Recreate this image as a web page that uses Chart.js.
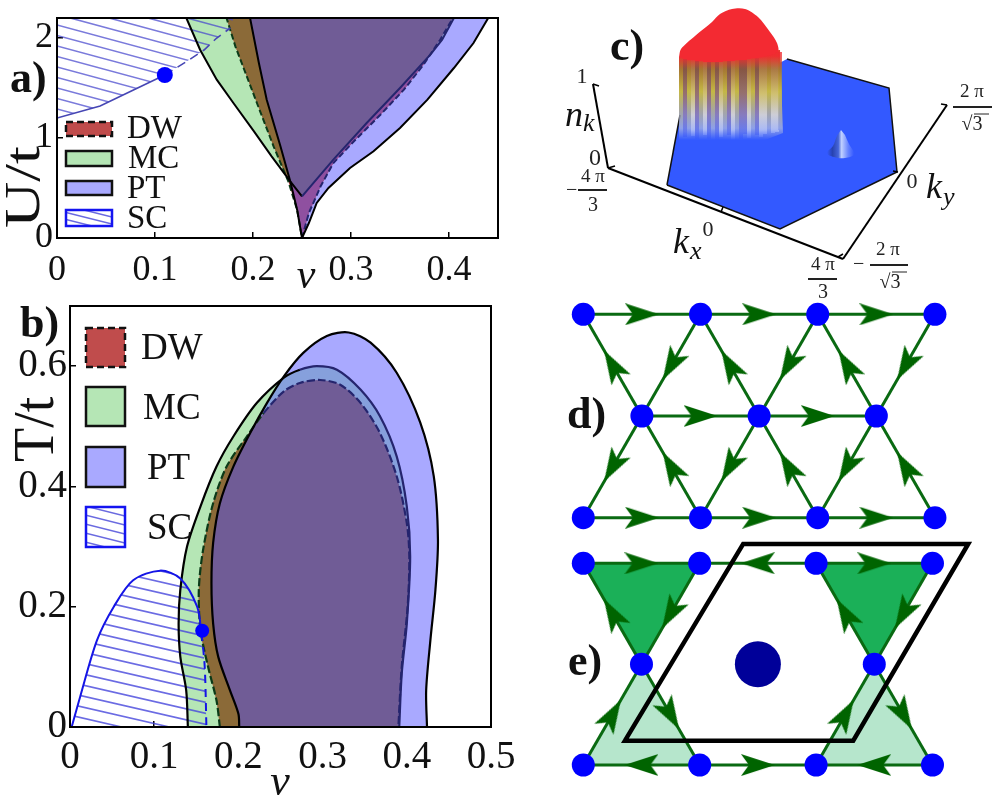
<!DOCTYPE html>
<html>
<head>
<meta charset="utf-8">
<script src="https://cdn.jsdelivr.net/npm/chart.js@4"></script>
<style>
body { margin: 0; background: #fff; }
canvas { position: absolute; }
</style>
</head>
<body>
<canvas id="chartD" width="450" height="240" style="left:550px;top:290px"></canvas>
<canvas id="chartE" width="450" height="270" style="left:550px;top:530px"></canvas>
<canvas id="chartA" width="500" height="290" style="left:0;top:0"></canvas>
<canvas id="chartB" width="520" height="510" style="left:0;top:290px"></canvas>
<canvas id="chartC" width="460" height="300" style="left:540px;top:0"></canvas>
<script>
// panel a: U/t against filling
const aTicksX = [0, 0.1, 0.2, 0.3, 0.4];
const aTicksY = [0, 1, 2];
const aPtX = [0.195, 0.197, 0.206, 0.214, 0.228, 0.238, 0.245, 0.25, 0.257, 0.265, 0.277, 0.299, 0.323, 0.35, 0.378, 0.405, 0.425, 0.44, 0.445];
const aPtY = [2.3, 2.2, 1.75, 1.383, 0.917, 0.567, 0.283, 0, 0.15, 0.35, 0.5, 0.7, 0.867, 1.1, 1.383, 1.7, 1.95, 2.2, 2.3];
const aMcX = [0.128, 0.132, 0.146, 0.163, 0.18, 0.201, 0.219, 0.238, 0.25, 0.282, 0.316, 0.35, 0.381, 0.393, 0.405, 0.41];
const aMcY = [2.3, 2.2, 1.883, 1.583, 1.35, 1.067, 0.817, 0.567, 0.417, 0.783, 1.15, 1.5, 1.833, 1.983, 2.2, 2.3];
const aDwX = [0.17, 0.173, 0.182, 0.204, 0.221, 0.236, 0.245, 0.25, 0.257, 0.269, 0.282, 0.303, 0.33, 0.354, 0.374, 0.391, 0.403, 0.41];
const aDwY = [2.3, 2.2, 1.917, 1.35, 0.917, 0.567, 0.283, 0, 0.25, 0.517, 0.75, 0.967, 1.233, 1.483, 1.733, 1.983, 2.183, 2.3];
const aScX = [0, 0.044, 0.078, 0.11, 0.133, 0.15, 0.163, 0.177, 0.18, 0.18, 0];
const aScY = [1.2, 1.32, 1.48, 1.63, 1.77, 1.88, 2.0, 2.1, 2.2, 2.3, 2.3];
const aDotX = [0.11];
const aDotY = [1.63];

// panel b: T/t against filling
const bTicksX = [0, 0.1, 0.2, 0.3, 0.4, 0.5];
const bTicksY = [0, 0.2, 0.4, 0.6];
const bPtX = [0.424, 0.423, 0.428, 0.434, 0.437, 0.432, 0.416, 0.388, 0.357, 0.331, 0.305, 0.277, 0.254, 0.234, 0.214, 0.194, 0.178, 0.17, 0.168, 0.17, 0.176, 0.19, 0.2, 0.201];
const bPtY = [0, 0.061, 0.144, 0.228, 0.311, 0.417, 0.506, 0.589, 0.639, 0.656, 0.65, 0.622, 0.583, 0.539, 0.489, 0.433, 0.372, 0.306, 0.239, 0.172, 0.117, 0.061, 0.022, 0];
const bMcX = [0.14, 0.138, 0.131, 0.129, 0.131, 0.139, 0.155, 0.174, 0.194, 0.222, 0.254, 0.273, 0.293, 0.317, 0.345, 0.368, 0.388, 0.4, 0.404, 0.4, 0.394, 0.391];
const bMcY = [0, 0.061, 0.117, 0.172, 0.228, 0.3, 0.367, 0.433, 0.483, 0.539, 0.581, 0.594, 0.6, 0.594, 0.561, 0.517, 0.45, 0.367, 0.283, 0.172, 0.089, 0];
const bDwX = [0.178, 0.174, 0.164, 0.155, 0.153, 0.158, 0.17, 0.186, 0.21, 0.23, 0.254, 0.273, 0.297, 0.321, 0.345, 0.368, 0.388, 0.4, 0.403, 0.401, 0.394, 0.39];
const bDwY = [0, 0.044, 0.1, 0.161, 0.228, 0.294, 0.372, 0.433, 0.483, 0.522, 0.558, 0.572, 0.577, 0.569, 0.539, 0.489, 0.417, 0.339, 0.283, 0.2, 0.1, 0];
const bScX = [0.002, 0.012, 0.032, 0.052, 0.075, 0.107, 0.131, 0.151, 0.156, 0.16, 0.162];
const bScY = [0, 0.05, 0.144, 0.2, 0.244, 0.26, 0.247, 0.2, 0.156, 0.1, 0];
const bDotX = [0.157];
const bDotY = [0.16];

// panel c: projected surface, in projected plot units
const hexX = [127, 140, 247, 349, 357, 240, 127];
const hexY = [185, 115, 59, 88, 172, 229, 185];
const capX = [139, 141, 155, 172, 180, 192, 205, 218, 230, 237, 238, 225, 205, 180, 160, 145];
const capY = [57, 49, 36, 22, 14, 9, 9, 17, 32, 43, 52, 57, 60, 62, 62, 60];
const wallX = [139, 240, 243, 225, 139];
const wallY = [57, 50, 133, 140, 140];
const bumpX = [301, 297, 293, 287, 294, 305, 314, 309, 305];
const bumpY = [130, 136, 146, 153, 157, 158, 154, 144, 135];
const streakX = [141, 145, 149, 153, 157, 161, 165, 169, 173, 177, 181, 185, 189, 193, 197, 201, 205, 209, 213, 217, 221, 225, 229, 233, 237, 240];
const streakTop = [58, 59, 60, 60, 61, 61, 62, 62, 62, 62, 62, 61, 61, 61, 60, 60, 60, 59, 58, 58, 57, 56, 55, 54, 52, 52];
const streakEnd = [139, 137, 140, 136, 139, 140, 135, 139, 136, 140, 137, 139, 135, 140, 137, 139, 134, 138, 136, 135, 137, 134, 135, 133, 132, 130];
const streakTone = [0, 1, 0, 2, 1, 0, 2, 1, 0, 1, 2, 0, 1, 2, 0, 1, 1, 2, 0, 1, 2, 2, 0, 2, 2, 0];
const axisN = [[53, 84], [68, 168]];
const axisKx = [[68, 168], [303, 259]];
const axisKy = [[303, 259], [407, 105]];
const axisTicks = [[[53, 84], [59, 86]], [[68, 168], [75, 166]], [[181, 212], [183, 207]], [[358, 172], [353, 171]], [[407, 105], [401, 104]], [[298, 257], [303, 254]]];

// panels d and e: lattice sites in units of the lattice constant and row height
const dSiteX = [0, 1, 2, 3, 0.5, 1.5, 2.5, 0, 1, 2, 3];
const dSiteY = [2, 2, 2, 2, 1, 1, 1, 0, 0, 0, 0];
const dEdges = [[0, 1], [1, 2], [2, 3], [4, 5], [5, 6], [7, 8], [8, 9], [9, 10], [4, 0], [1, 4], [5, 1], [2, 5], [6, 2], [3, 6], [4, 7], [8, 4], [5, 8], [9, 5], [6, 9], [10, 6]];
const eSiteX = [0, 1, 2, 3, 0.5, 2.5, 0, 1, 2, 3];
const eSiteY = [2, 2, 2, 2, 1, 1, 0, 0, 0, 0];
const eEdges = [[0, 1], [2, 1], [2, 3], [4, 0], [1, 4], [5, 2], [3, 5], [6, 4], [4, 7], [7, 6], [7, 8], [8, 5], [5, 9], [9, 8]];
const eDarkCells = [[0, 1, 4], [2, 3, 5]];
const eLightCells = [[6, 7, 4], [8, 9, 5]];
const eCellX = [0.358, 1.374, 3.307, 2.319, 0.358, 1.374];
const eCellY = [0.241, 2.192, 2.192, 0.241, 0.241, 2.192];
const eCenterX = [1.5];
const eCenterY = [1];

const legendNames = ["DW", "MC", "PT", "SC"];
const colPT = "#A9A9FF", colMC = "#B5E6B5", colDW = "#C04C4C";
const serif = '"Liberation Serif"';

const pts = (xs, ys) => xs.map((x, i) => ({ x, y: ys[i] }));
const pairs = list => list.map(p => ({ x: p[0], y: p[1] }));

function hatch(ctx, x, y, w, h, slope, gap, color, width) {
  ctx.strokeStyle = color;
  ctx.lineWidth = width;
  ctx.beginPath();
  for (let v = y - slope * w - gap; v < y + h + gap; v += gap) {
    ctx.moveTo(x, v);
    ctx.lineTo(x + w, v + slope * w);
  }
  ctx.stroke();
}

// fills intersections of closed datasets, then hatching, under the lines
const regionPlugin = {
  id: "regions",
  beforeDatasetsDraw(chart, args, opts) {
    const ctx = chart.ctx, a = chart.chartArea;
    const clipTo = i => {
      ctx.beginPath();
      chart.getDatasetMeta(i).dataset.path(ctx);
      ctx.closePath();
      ctx.clip();
    };
    ctx.save();
    ctx.beginPath();
    ctx.rect(a.left, a.top, a.width, a.height);
    ctx.clip();
    for (const f of opts.fills || []) {
      ctx.save();
      f.on.forEach(clipTo);
      ctx.fillStyle = f.color;
      ctx.fillRect(a.left, a.top, a.width, a.height);
      ctx.restore();
    }
    if (opts.hatch) {
      ctx.save();
      clipTo(opts.hatch.on);
      hatch(ctx, a.left, a.top, a.width, a.height, opts.hatch.slope, opts.hatch.gap, opts.hatch.color, 1.6);
      ctx.restore();
    }
    ctx.restore();
  }
};

const framePlugin = {
  id: "frame",
  afterDatasetsDraw(chart, args, opts) {
    if (!opts.show) return;
    const ctx = chart.ctx, a = chart.chartArea;
    ctx.save();
    ctx.strokeStyle = "#000";
    ctx.lineWidth = 2;
    ctx.strokeRect(a.left, a.top, a.width, a.height);
    ctx.restore();
  }
};

const legendPlugin = {
  id: "swatches",
  afterDraw(chart, args, opts) {
    if (!opts.rows) return;
    const ctx = chart.ctx;
    const fills = [colDW, colMC, colPT, "#fff"];
    opts.rows.forEach((r, i) => {
      ctx.save();
      ctx.fillStyle = fills[i];
      ctx.fillRect(opts.x, r.y, opts.w, r.h);
      if (i === 3) {
        ctx.save();
        ctx.beginPath();
        ctx.rect(opts.x, r.y, opts.w, r.h);
        ctx.clip();
        hatch(ctx, opts.x, r.y, opts.w, r.h, 0.25, opts.gap, "#6A6AE0", 1.5);
        ctx.restore();
      }
      ctx.strokeStyle = i === 3 ? "#1414F0" : "#111";
      ctx.lineWidth = 2.5;
      ctx.setLineDash(i === 0 ? [7, 4] : []);
      ctx.strokeRect(opts.x, r.y, opts.w, r.h);
      ctx.setLineDash([]);
      ctx.fillStyle = "#111";
      ctx.font = opts.font;
      ctx.textBaseline = "alphabetic";
      ctx.fillText(legendNames[i], r.tx, r.ty);
      ctx.restore();
    });
  }
};

const textPlugin = {
  id: "texts",
  afterDraw(chart, args, opts) {
    const ctx = chart.ctx;
    for (const t of opts.items || []) {
      ctx.save();
      ctx.translate(t.x, t.y);
      if (t.rot) ctx.rotate(t.rot * Math.PI / 180);
      if (t.sx) ctx.scale(t.sx, 1);
      ctx.font = t.font;
      ctx.fillStyle = t.color || "#111";
      ctx.textAlign = t.align || "left";
      ctx.textBaseline = t.base || "alphabetic";
      ctx.fillText(t.text, 0, 0);
      ctx.restore();
    }
    for (const b of opts.bars || []) {
      ctx.save();
      ctx.strokeStyle = "#222";
      ctx.lineWidth = b[3] || 2;
      ctx.beginPath();
      ctx.moveTo(b[0], b[2]);
      ctx.lineTo(b[1], b[2]);
      ctx.stroke();
      ctx.restore();
    }
  }
};

Chart.register(regionPlugin, framePlugin, legendPlugin, textPlugin);

const line = (data, color, width, extra) => ({
  type: "line", data, borderColor: color, borderWidth: width, pointRadius: 0, fill: false, ...extra
});
const shape = (data, tension) => line(data, "transparent", 0, { tension: tension || 0 });
const dot = (data, color, radius, extra) => ({
  type: "line", data, showLine: false, pointRadius: radius, pointBackgroundColor: color, pointBorderWidth: 0, ...extra
});
// later entries are drawn on top
const stack = list => list.map((d, i) => ({ ...d, order: list.length - i }));
const noPadding = s => { s.paddingTop = s.paddingBottom = s.paddingLeft = s.paddingRight = 0; };

function axis(ticks, fit, size, fmt, pad, min, max) {
  return {
    type: "linear", min, max,
    afterBuildTicks: s => { s.ticks = ticks.map(value => ({ value })); },
    afterFit: s => { fit(s); noPadding(s); },
    border: { color: "#000", width: 2 },
    grid: { drawOnChartArea: false, color: "#000", lineWidth: 1.5, tickLength: -6 },
    ticks: { autoSkip: false, maxRotation: 0, padding: pad, color: "#111", font: { family: "Liberation Serif", size }, callback: fmt }
  };
}
const fmtTick = v => (v === 0 ? "0" : Number.isInteger(v) ? String(v) : v.toFixed(1));

function phaseOptions(xAxis, yAxis, padding, fills, hatchCfg, swatches, items) {
  return {
    responsive: false, animation: false, events: [],
    layout: { padding, autoPadding: false },
    scales: { x: xAxis, y: yAxis },
    plugins: {
      legend: { display: false }, tooltip: { enabled: false },
      regions: { fills, hatch: hatchCfg },
      frame: { show: true },
      swatches,
      texts: { items }
    }
  };
}
const overlapFills = [
  { on: [0], color: colPT }, { on: [1], color: colMC }, { on: [2], color: colDW },
  { on: [1, 2], color: "#8B6A38" }, { on: [0, 2], color: "#8F50A0" }, { on: [0, 1], color: "#86A0DC" },
  { on: [0, 1, 2], color: "#705C96" }
];

new Chart(document.getElementById("chartA"), {
  data: { datasets: stack([
    shape(pts(aPtX, aPtY)), shape(pts(aMcX, aMcY)), shape(pts(aDwX, aDwY)), shape(pts(aScX, aScY)),
    line(pts(aDwX, aDwY), "#0B3A18", 2, { borderDash: [6, 3], segment: { borderColor: c => (c.p0.parsed.x >= 0.25 ? "#25256E" : "#0B3A18") } }),
    line(pts(aMcX, aMcY), "#000", 2, { segment: { borderColor: c => (c.p0.parsed.x >= 0.25 ? "#25256E" : "#000") } }),
    line(pts(aPtX, aPtY), "#000", 2),
    line(pts(aScX.slice(0, 8), aScY.slice(0, 8)), "#4646B4", 1.6, { segment: { borderDash: c => (c.p0.parsed.x >= 0.11 ? [9, 6] : undefined) } }),
    dot(pts(aDotX, aDotY), "#0000FF", 8)
  ]) },
  options: phaseOptions(
    axis(aTicksX, s => { s.height = 52; }, 36, fmtTick, 17, 0, 0.45),
    axis(aTicksY, s => { s.width = 57; }, 36, fmtTick, 10, 0, 2.2),
    { top: 18, right: 2 },
    overlapFills,
    { on: 3, slope: 0.27, gap: 10.5, color: "rgba(70,70,205,0.72)" },
    { x: 66, w: 46, font: "33px " + serif, gap: 7, rows: [
      { y: 122, h: 14, tx: 127, ty: 138 }, { y: 151, h: 15, tx: 128, ty: 168 },
      { y: 181, h: 14, tx: 127, ty: 198 }, { y: 210, h: 16, tx: 127, ty: 228 }
    ] },
    [
      { text: "a)", x: 10, y: 92, font: "bold 44px " + serif },
      { text: "U/t", x: 39, y: 228, rot: -90, sx: 1.28, font: "50px " + serif },
      { text: "ν", x: 306, y: 288, align: "center", font: "italic 42px " + serif }
    ]
  )
});

new Chart(document.getElementById("chartB"), {
  data: { datasets: stack([
    shape(pts(bPtX, bPtY), 0.3), shape(pts(bMcX, bMcY), 0.3), shape(pts(bDwX, bDwY), 0.3), shape(pts(bScX, bScY), 0.3),
    line(pts(bDwX, bDwY), "#0B3A18", 2.2, { tension: 0.3, borderDash: [8, 3], segment: { borderColor: c => (c.p0.parsed.x >= 0.23 ? "#25256E" : "#0B3A18") } }),
    line(pts(bMcX, bMcY), "#000", 2.2, { tension: 0.3, segment: { borderColor: c => (c.p0.parsed.x >= 0.26 ? "#25256E" : "#000") } }),
    line(pts(bPtX, bPtY), "#000", 2.2, { tension: 0.3 }),
    line(pts(bScX, bScY), "#1414E6", 2, { tension: 0.3, segment: { borderDash: c => (c.p0.parsed.x >= 0.155 ? [8, 6] : undefined) } }),
    dot(pts(bDotX, bDotY), "#0000FF", 7)
  ]) },
  options: phaseOptions(
    axis(bTicksX, s => { s.height = 73; }, 39, fmtTick, 13, 0, 0.5),
    axis(bTicksY, s => { s.width = 70; }, 39, fmtTick, 9, 0, 0.7),
    { top: 16, right: 29 },
    overlapFills,
    { on: 3, slope: 0.23, gap: 11, color: "rgba(70,70,220,0.8)" },
    { x: 86, w: 39, font: "37px " + serif, gap: 9, rows: [
      { y: 38, h: 39, tx: 141, ty: 69 }, { y: 97, h: 39, tx: 143, ty: 129 },
      { y: 157, h: 40, tx: 147, ty: 189 }, { y: 217, h: 40, tx: 147, ty: 249 }
    ] },
    [
      { text: "b)", x: 20, y: 47, font: "bold 44px " + serif },
      { text: "T/t", x: 53, y: 172, rot: -90, font: "56px " + serif },
      { text: "ν", x: 280, y: 505, align: "center", font: "italic 44px " + serif }
    ]
  )
});

// panel c
const ctxC = document.getElementById("chartC").getContext("2d");
const blue = "#3359FF";
function wallGradient(stops) {
  const g = ctxC.createLinearGradient(0, 56, 0, 140);
  stops.forEach(s => g.addColorStop(s[0], s[1]));
  return g;
}
const wallBase = wallGradient([[0, "#E83A30"], [0.14, "#9C6A38"], [0.42, "#B8A850"], [0.66, "#A0A0B0"], [0.86, "#8EA0E8"], [1, blue]]);
const toneGradients = [
  wallGradient([[0, "#F02A30C0"], [0.16, "#A87A30C0"], [0.42, "#C8BC40C0"], [0.66, "#A8A8A0C0"], [0.86, "#8EA0E8C0"], [1, blue]]),
  wallGradient([[0, "#F02A30C0"], [0.16, "#7E4E48C0"], [0.45, "#8A5E78C0"], [0.7, "#7F70C0C0"], [0.9, "#5A70F0C0"], [1, blue]]),
  wallGradient([[0, "#F02A30C0"], [0.16, "#B07E48C0"], [0.45, "#D8C878C0"], [0.7, "#DCDCE0C0"], [0.88, "#B4C2F8C0"], [1, blue]])
];
const bumpGrad = ctxC.createLinearGradient(287, 0, 314, 0);
[[0, blue], [0.2, "#2742B0"], [0.42, "#4464D8"], [0.54, "#C0D0FF"], [0.78, "#6A86FF"], [1, blue]].forEach(s => bumpGrad.addColorStop(s[0], s[1]));

const streaks = streakX.map((x, i) => line([{ x, y: streakTop[i] }, { x, y: streakEnd[i] }], toneGradients[streakTone[i]], 4));

new Chart(ctxC, {
  data: { datasets: stack([
    shape(pts(hexX, hexY)),
    shape(pts(wallX, wallY)),
    shape(pts(bumpX, bumpY), 0.4),
    shape(pts(capX, capY), 0.3),
    line(pts(hexX.slice(2), hexY.slice(2)), "#111", 1.5),
    line(pts(hexX.slice(0, 2), hexY.slice(0, 2)), "#111", 1.5),
    line(pairs(axisN), "#000", 2),
    line(pairs(axisKx), "#000", 2),
    line(pairs(axisKy), "#000", 2),
    ...axisTicks.map(t => line(pairs(t), "#000", 1.5)),
    ...streaks
  ]) },
  options: {
    responsive: false, animation: false, events: [],
    layout: { autoPadding: false },
    scales: {
      x: { type: "linear", display: false, min: 0, max: 460 },
      y: { type: "linear", display: false, min: 0, max: 300, reverse: true }
    },
    plugins: {
      legend: { display: false }, tooltip: { enabled: false },
      regions: { fills: [
        { on: [0], color: blue }, { on: [1], color: wallBase }, { on: [2], color: bumpGrad }, { on: [3], color: "#F32A32" }
      ] },
      texts: {
        items: [
          { text: "c)", x: 70, y: 60, font: "bold 44px " + serif },
          { text: "1", x: 42, y: 77, align: "center", base: "middle", font: "22px " + serif, color: "#222" },
          { text: "n", x: 25, y: 126, font: "italic 36px " + serif },
          { text: "k", x: 43, y: 131, font: "italic 26px " + serif },
          { text: "0", x: 55, y: 159, align: "center", base: "middle", font: "24px " + serif, color: "#222" },
          { text: "−", x: 26, y: 196, font: "20px " + serif, color: "#222" },
          { text: "4 π", x: 53, y: 177, align: "center", base: "middle", font: "19px " + serif, color: "#222" },
          { text: "3", x: 53, y: 206, align: "center", base: "middle", font: "20px " + serif, color: "#222" },
          { text: "0", x: 168, y: 230, align: "center", base: "middle", font: "22px " + serif, color: "#222" },
          { text: "k", x: 133, y: 253, font: "italic 36px " + serif },
          { text: "x", x: 150, y: 259, font: "italic 26px " + serif },
          { text: "4 π", x: 283, y: 265, align: "center", base: "middle", font: "19px " + serif, color: "#222" },
          { text: "3", x: 283, y: 293, align: "center", base: "middle", font: "20px " + serif, color: "#222" },
          { text: "−", x: 313, y: 270, font: "20px " + serif, color: "#222" },
          { text: "2 π", x: 348, y: 250, align: "center", base: "middle", font: "19px " + serif, color: "#222" },
          { text: "√3", x: 350, y: 283, align: "center", base: "middle", font: "20px " + serif, color: "#222" },
          { text: "0", x: 372, y: 182, align: "center", base: "middle", font: "22px " + serif, color: "#222" },
          { text: "k", x: 386, y: 198, font: "italic 36px " + serif },
          { text: "y", x: 403, y: 205, font: "italic 26px " + serif },
          { text: "2 π", x: 432, y: 92, align: "center", base: "middle", font: "19px " + serif, color: "#222" },
          { text: "√3", x: 432, y: 125, align: "center", base: "middle", font: "20px " + serif, color: "#222" }
        ],
        bars: [[38, 67, 190], [268, 297, 279], [330, 368, 265], [413, 452, 107], [352, 367, 272, 1], [434, 449, 114, 1]]
      }
    }
  }
});

// panels d and e share the lattice drawing
function arrowImage() {
  const c = document.createElement("canvas");
  c.width = 34; c.height = 22;
  const g = c.getContext("2d");
  g.fillStyle = "#006400";
  g.beginPath();
  g.moveTo(34, 11); g.lineTo(0, 0); g.lineTo(8, 11); g.lineTo(0, 22);
  g.closePath();
  g.fill();
  return c;
}
const arrow = arrowImage();

function latticeDatasets(sx, sy, edges) {
  const edgeSets = edges.map(e => line([{ x: sx[e[0]], y: sy[e[0]] }, { x: sx[e[1]], y: sy[e[1]] }], "#0A6A12", 3));
  const mids = edges.map(e => ({ x: (sx[e[0]] + sx[e[1]]) / 2, y: (sy[e[0]] + sy[e[1]]) / 2 }));
  const turns = edges.map(e => -Math.atan2((sy[e[1]] - sy[e[0]]) * Math.sqrt(3) / 2, sx[e[1]] - sx[e[0]]) * 180 / Math.PI);
  const arrows = dot(mids, "#006400", 10, { pointStyle: arrow, pointRotation: turns });
  return { edgeSets, arrows };
}
function latticeOptions(xr, yr, fills) {
  return {
    responsive: false, animation: false, events: [],
    layout: { autoPadding: false },
    scales: {
      x: { type: "linear", display: false, min: xr[0], max: xr[1] },
      y: { type: "linear", display: false, min: yr[0], max: yr[1] }
    },
    plugins: { legend: { display: false }, tooltip: { enabled: false }, regions: { fills } }
  };
}

const dLat = latticeDatasets(dSiteX, dSiteY, dEdges);
const dOpts = latticeOptions([-0.284, 3.555], [-0.121, 2.239], []);
dOpts.plugins.texts = { items: [{ text: "d)", x: 17, y: 138, font: "bold 44px " + serif }] };
new Chart(document.getElementById("chartD"), {
  data: { datasets: stack([...dLat.edgeSets, dLat.arrows, dot(pts(dSiteX, dSiteY), "#0000FF", 11.5)]) },
  options: dOpts
});

const eLat = latticeDatasets(eSiteX, eSiteY, eEdges);
const cellSet = c => shape(c.concat(c[0]).map(i => ({ x: eSiteX[i], y: eSiteY[i] })));
const eCells = [...eDarkCells, ...eLightCells].map(cellSet);
const eOpts = latticeOptions([-0.286, 3.58], [-0.347, 2.33], [
  { on: [0], color: "#1BB058" }, { on: [1], color: "#1BB058" }, { on: [2], color: "#B6E6CC" }, { on: [3], color: "#B6E6CC" }
]);
eOpts.plugins.texts = { items: [{ text: "e)", x: 18, y: 145, font: "bold 44px " + serif }] };
new Chart(document.getElementById("chartE"), {
  data: { datasets: stack([
    ...eCells, ...eLat.edgeSets, eLat.arrows,
    dot(pts(eSiteX, eSiteY), "#0000FF", 11.5),
    dot(pts(eCenterX, eCenterY), "#000099", 23),
    line(pts(eCellX, eCellY), "#000", 4.5, { borderJoinStyle: "miter" })
  ]) },
  options: eOpts
});
</script>
</body>
</html>
